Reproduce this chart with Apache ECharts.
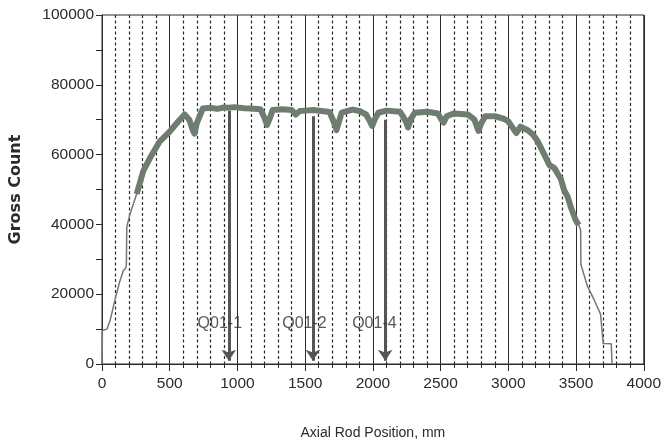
<!DOCTYPE html>
<html>
<head>
<meta charset="utf-8">
<script src="https://cdn.jsdelivr.net/npm/echarts@6/dist/echarts.min.js"></script>
<style>
  html, body { margin: 0; padding: 0; background: #fff; }
  #chart { width: 664px; height: 445px; }
</style>
</head>
<body>
<div id="chart"></div>
<script>
// axial scan of the rod
const rodPos = [
  0, 3, 37, 60, 97, 130, 158, 175, 180, 183, 207, 256, 305, 354, 427, 500, 561, 610, 646, 670,
  683, 700, 744, 800, 850, 900, 936, 980, 1050, 1100, 1170, 1200, 1219, 1240, 1260, 1330, 1400, 1430, 1460, 1500,
  1560, 1620, 1680, 1710, 1731, 1750, 1770, 1850, 1900, 1950, 1975, 1995, 2015, 2040, 2100, 2200, 2240, 2260, 2280, 2310,
  2400, 2480, 2510, 2523, 2545, 2600, 2700, 2750, 2779, 2800, 2830, 2900, 2970, 3000, 3030, 3059, 3090, 3144, 3180, 3217,
  3266, 3303, 3339, 3388, 3413, 3437, 3461, 3498, 3520, 3534, 3536, 3584, 3632, 3681, 3690, 3698, 3700, 3760, 3766
]
const grossCount = [
  0, 9600, 10000, 12500, 18600, 23500, 26800, 27500, 28500, 39300, 43000, 48700, 55300, 59000, 63800, 66600, 69400, 71500, 69900, 67000,
  66000, 69000, 73200, 73400, 73100, 73500, 73400, 73600, 73300, 73200, 73000, 70500, 68500, 70500, 72800, 73000, 72800, 71500, 72500, 72600,
  72800, 72500, 72200, 69500, 67000, 69500, 72000, 72900, 72500, 71500, 69800, 68200, 70200, 72000, 72600, 72300, 69800, 67800, 70200, 72000,
  72300, 71800, 69800, 69200, 71000, 71800, 71500, 70000, 66800, 69000, 71000, 71000, 70200, 69500, 67800, 66200, 68000, 67000, 65800, 63800,
  60000, 57000, 56200, 53000, 49700, 48000, 45000, 41200, 39800, 38400, 28500, 22300, 18500, 14300, 13800, 7000, 5900, 5800, 0
]

// sampling positions marked with arrows
const sampleNames = ['Q01-1', 'Q01-2', 'Q01-4']
const samplePos = [936, 1557, 2091]
const arrowTop = [72500, 71000, 70000]
const arrowBottom = [900, 900, 900]
const labelPos = [870, 1495, 2011]
const labelCount = [11500, 11500, 11500]

const xTicks = [0, 4000, 500]
const yTicks = [0, 100000, 20000]

const curveColor = '#6f7d71'
const inkColor = '#2b2b2b'
const fontFamily = 'Liberation Sans, Arial, sans-serif'

const curveData = rodPos.map((x, i) => [x, grossCount[i]])
const bandData = curveData.filter(p => p[0] >= 240 && p[0] <= 3520)

const chart = echarts.init(document.getElementById('chart'))

const option = {
  backgroundColor: '#fff',
  animation: false,
  grid: {
    left: 100,
    right: 17,
    top: 15,
    bottom: 76,
    show: true,
    borderColor: inkColor,
    borderWidth: 1
  },
  xAxis: {
    type: 'value',
    min: xTicks[0],
    max: xTicks[1],
    interval: xTicks[2],
    name: 'Axial Rod Position, mm',
    nameLocation: 'middle',
    nameGap: 62,
    nameTextStyle: { color: inkColor, fontSize: 14, fontFamily },
    axisLine: { lineStyle: { color: inkColor, width: 1 } },
    axisTick: { length: 7, lineStyle: { color: inkColor } },
    minorTick: { show: true, splitNumber: 5, length: 4, lineStyle: { color: inkColor } },
    axisLabel: { color: inkColor, fontSize: 15.5, fontFamily, margin: 12, formatter: v => String(v) },
    splitLine: { show: true, lineStyle: { color: inkColor, width: 1 } },
    minorSplitLine: { show: true, lineStyle: { color: inkColor, width: 1.2, type: [3, 2.5] } }
  },
  yAxis: {
    type: 'value',
    min: yTicks[0],
    max: yTicks[1],
    interval: yTicks[2],
    name: 'Gross Count',
    nameLocation: 'middle',
    nameGap: 78,
    nameTextStyle: { color: inkColor, fontSize: 16, fontWeight: 'bold', fontFamily: 'DejaVu Sans' },
    axisLine: { show: true, lineStyle: { color: inkColor, width: 1 } },
    axisTick: { show: true, length: 6, lineStyle: { color: inkColor } },
    minorTick: { show: true, splitNumber: 2, length: 6, lineStyle: { color: inkColor } },
    axisLabel: { color: inkColor, fontSize: 15.5, fontFamily, margin: 8, formatter: v => String(v) },
    splitLine: { show: false }
  },
  series: [
    {
      // arrows pointing to the sample positions
      type: 'lines',
      coordinateSystem: 'cartesian2d',
      z: 2,
      symbol: ['none', 'arrow'],
      symbolSize: [0, 11],
      lineStyle: { color: '#555', width: 3, opacity: 1 },
      data: samplePos.map((x, i) => ({ coords: [[x, arrowTop[i]], [x, arrowBottom[i]]] }))
    },
    {
      type: 'line',
      z: 3,
      symbol: 'none',
      lineStyle: { color: curveColor, width: 1.5 },
      data: curveData
    },
    {
      // noisy band on the plateau
      type: 'line',
      z: 3,
      symbol: 'none',
      lineStyle: { color: curveColor, width: 6, join: 'round' },
      data: bandData
    },
    {
      type: 'scatter',
      z: 4,
      symbolSize: 1,
      silent: true,
      itemStyle: { color: 'rgba(0,0,0,0)' },
      label: {
        show: true,
        position: 'inside',
        formatter: p => p.name,
        color: '#2e2e2e',
        fontSize: 16,
        fontFamily,
        textBorderWidth: 0
      },
      data: sampleNames.map((n, i) => ({ name: n, value: [labelPos[i], labelCount[i]] }))
    }
  ]
}

chart.setOption(option)
</script>
</body>
</html>
